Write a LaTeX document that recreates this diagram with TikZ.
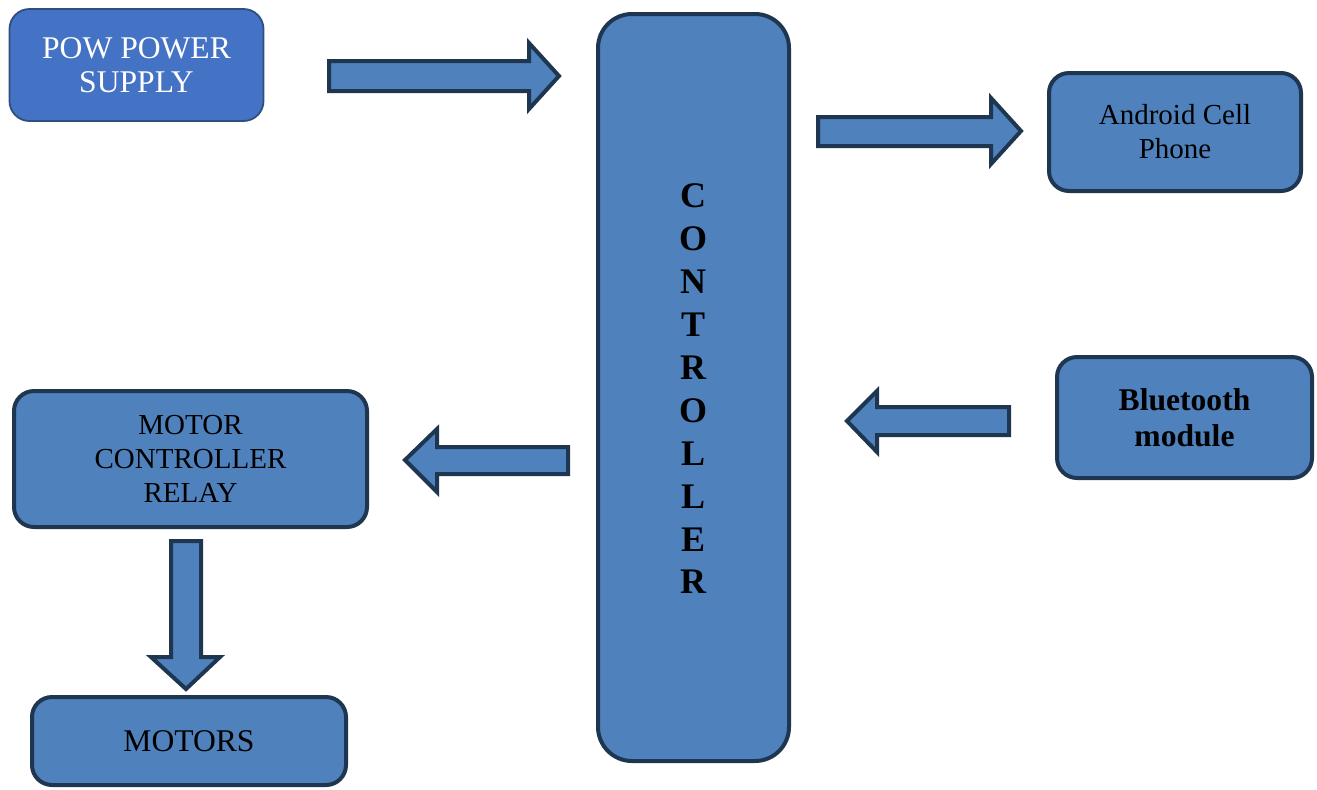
\documentclass[tikz,border=0pt]{standalone}
\usepackage{fontspec}
\setmainfont{Liberation Serif}
\definecolor{boxfill}{HTML}{4F81BD}
\definecolor{boxline}{HTML}{1F3650}
\definecolor{psfill}{HTML}{4472C4}
\definecolor{psline}{HTML}{2F4F80}
\tikzset{
  blk/.style={draw=boxline, fill=boxfill, line width=2pt, rounded corners=10pt, align=center, inner sep=0pt},
  psbox/.style={draw=psline, fill=psfill, line width=0.9pt, rounded corners=10pt, align=center, inner sep=0pt, text=white},
  blockarrow/.style={draw=boxline, fill=boxfill, line width=2pt, line join=miter},
  txt/.style={font=\fontsize{14.5}{17}\selectfont},
  bigtxt/.style={font=\fontsize{15.8}{17}\selectfont},
}
\begin{document}
\begin{tikzpicture}[x=0.5pt,y=-0.5pt]
\useasboundingbox (0,0) rectangle (1317,789);
% boxes
\node[psbox, bigtxt, minimum width=127pt, minimum height=56pt] (ps) at (136.5,65) {POW POWER\\SUPPLY};
\node[blk, minimum width=95.5pt, minimum height=373.5pt, rounded corners=17pt] (ctrl) at (693.5,387.5) {};
\node[font=\bfseries\fontsize{18}{21.45}\selectfont, align=center, inner sep=0pt] (ctrltext) at (693,389) {C\\O\\N\\T\\R\\O\\L\\L\\E\\R};
\node[blk, txt, minimum width=126pt, minimum height=59pt] (phone) at (1175,132) {Android Cell\\Phone};
\node[blk, font=\bfseries\fontsize{15.8}{18}\selectfont, minimum width=127.5pt, minimum height=60.5pt] (bt) at (1184.5,417.5) {Bluetooth\\module};
\node[blk, txt, minimum width=176.5pt, minimum height=68pt] (relay) at (190.5,459) {MOTOR\\CONTROLLER\\RELAY};
\node[blk, bigtxt, minimum width=157pt, minimum height=44pt] (motors) at (189,741) {MOTORS};
% block arrows
\draw[blockarrow] (329,61) -- (529,61) -- (529,43) -- (559,76) -- (529,109) -- (529,91) -- (329,91) -- cycle;
\draw[blockarrow] (818,117) -- (991,117) -- (991,98) -- (1021,131) -- (991,164) -- (991,146) -- (818,146) -- cycle;
\draw[blockarrow] (1009,407) -- (877,407) -- (877,391) -- (847,421) -- (877,452) -- (877,435) -- (1009,435) -- cycle;
\draw[blockarrow] (568,447) -- (437,447) -- (437,429) -- (405,460) -- (437,492) -- (437,474) -- (568,474) -- cycle;
\draw[blockarrow] (171,541) -- (201,541) -- (201,657) -- (220,657) -- (186,689) -- (151,657) -- (171,657) -- cycle;
\end{tikzpicture}
\end{document}
